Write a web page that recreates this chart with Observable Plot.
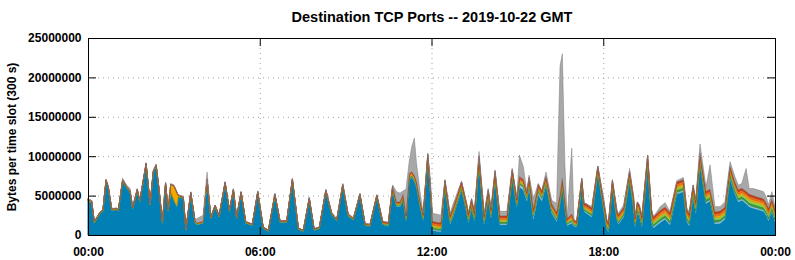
<!DOCTYPE html>
<html><head><meta charset="utf-8">
<script src="https://cdn.jsdelivr.net/npm/d3@7"></script>
<script src="https://cdn.jsdelivr.net/npm/@observablehq/plot@0.6"></script>
<style>body{margin:0;background:#fff} svg{display:block}</style>
</head><body><div id="chart"></div>
<script>
const title = "Destination TCP Ports -- 2019-10-22 GMT";
const yLabel = "Bytes per time slot (300 s)";
const xTicks = [0, 6, 12, 18, 24];
const yTicks = [0, 5000000, 10000000, 15000000, 20000000, 25000000];

// layers, bottom to top
const layerNames = ["blue", "lightblue", "green", "lightgreen", "amber", "orange", "red", "gray"];
const layerFill = ["#0080b4", "#8ecbea", "#3d9b35", "#8fd650", "#f5a700", "#f07020", "#c83c14", "#a8a8a8"];
const layerStroke = ["#00628c", "#6aa9c9", "#2d7a27", "#6fb03a", "#c98800", "#c05510", "#9a2a0c", "#7a7a7a"];

// time (hours) of each read point
const hours = [0.00,0.13,0.22,0.42,0.52,0.63,0.71,0.83,1.00,1.06,1.21,1.35,1.47,1.56,1.72,1.81,2.03,2.17,2.28,2.38,
2.48,2.60,2.71,2.80,2.89,3.00,3.10,3.15,3.27,3.33,3.42,3.59,3.74,3.81,4.02,4.16,4.29,4.44,4.58,4.79,
4.94,5.08,5.19,5.35,5.51,5.74,5.93,6.12,6.30,6.53,6.71,6.94,7.14,7.35,7.52,7.73,7.90,8.08,8.31,8.51,
8.69,8.90,9.09,9.27,9.50,9.68,9.85,10.09,10.30,10.49,10.64,10.78,10.90,11.01,11.11,11.22,11.31,11.40,11.48,11.60,
11.71,11.87,11.95,12.04,12.23,12.33,12.47,12.65,12.76,13.05,13.23,13.29,13.40,13.50,13.66,13.84,13.98,14.08,14.22,14.39,
14.63,14.82,14.98,15.07,15.21,15.33,15.41,15.56,15.73,15.85,16.00,16.20,16.37,16.49,16.57,16.66,16.74,16.90,16.98,17.07,
17.25,17.33,17.40,17.60,17.81,18.01,18.12,18.18,18.32,18.48,18.53,18.71,18.92,19.06,19.11,19.19,19.26,19.35,19.55,19.69,
19.75,19.99,20.16,20.33,20.57,20.80,20.92,21.00,21.14,21.23,21.38,21.59,21.73,21.90,22.08,22.25,22.43,22.60,22.72,22.84,
22.99,23.10,23.24,23.42,23.60,23.71,23.77,23.89,24.00];

// total bytes (millions) at each point (top of the stack)
const total = [4.65,4.4,1.7,2.95,3.2,7.1,6.2,3.4,3.4,3.2,7.2,6.3,5.9,3.6,5.9,4.4,9.2,4.0,8.2,9.0,
6.0,1.7,6.7,3.3,6.5,6.35,5.5,5.1,5.0,4.9,0.8,5.5,1.9,2.1,2.5,8.0,2.3,3.8,2.5,6.8,
3.2,5.9,2.3,5.5,1.7,1.4,5.6,1.05,0.6,5.3,1.8,1.8,7.2,0.9,0.6,4.8,0.8,1.0,5.8,2.95,
2.0,6.55,2.75,2.2,5.3,1.5,1.4,5.1,1.7,1.6,6.35,5.5,5.3,5.6,5.8,9.3,11.2,12.3,9.0,5.5,
2.75,10.4,7.5,2.75,2.6,2.5,7.0,2.75,4.0,6.8,4.0,2.75,4.65,3.0,10.6,2.75,5.9,3.5,8.25,3.0,
3.0,8.45,4.65,10.15,8.65,5.5,7.6,4.6,6.55,5.6,8.0,4.4,4.0,21.4,23.0,9.0,2.1,11.0,1.9,1.7,
7.2,4.0,4.0,3.6,8.75,4.8,2.1,1.6,7.0,3.2,2.75,3.8,8.45,4.9,2.3,4.2,3.8,2.4,10.15,3.2,
2.3,3.6,4.1,3.0,6.9,7.3,3.4,3.0,6.35,4.4,11.55,6.1,8.9,3.6,3.6,4.2,9.3,7.4,6.3,6.55,
8.45,5.9,5.9,5.7,5.5,4.65,3.8,5.5,3.6];

// main (blue) series, millions
const blue = [4.3,4.1,1.5,2.7,3.0,6.8,5.9,3.1,3.2,3.0,6.8,6.0,5.4,3.3,5.6,4.2,8.9,3.8,7.9,8.7,
5.7,1.5,6.4,3.0,5.4,4.4,3.6,4.8,4.7,4.6,0.6,5.2,1.6,1.3,1.5,6.9,2.1,3.6,2.3,6.5,
3.0,5.6,2.1,5.3,1.5,1.2,5.3,0.85,0.45,5.0,1.6,1.6,6.9,0.7,0.45,4.5,0.6,0.8,5.5,2.6,
1.8,6.2,2.4,1.9,5.0,1.2,1.1,4.8,1.3,1.1,5.6,3.6,3.6,4.4,1.8,7.0,7.3,6.8,6.0,3.6,
1.9,9.5,6.0,0.6,0.45,0.45,6.1,1.4,2.4,5.7,2.8,1.6,3.4,1.8,8.9,1.4,4.6,2.2,7.0,1.3,
1.3,7.2,3.6,6.1,5.7,4.3,6.0,2.0,5.1,4.3,6.3,2.8,1.7,4.0,6.0,3.4,1.2,1.5,1.1,1.0,
6.3,3.0,2.8,2.3,7.8,3.3,0.8,0.4,6.0,1.8,1.4,2.3,6.9,3.3,1.1,2.8,2.4,1.1,8.65,1.6,
0.9,1.6,2.0,1.3,5.2,5.5,1.7,1.2,4.9,2.8,8.9,4.0,4.3,1.4,1.5,2.0,7.2,5.2,4.2,4.4,
4.0,3.6,3.4,3.2,3.0,2.4,1.8,3.0,1.7];

// amber series, millions
const amber = [0.05,0.05,0.05,0.05,0.05,0.05,0.05,0.05,0.05,0.05,0.05,0.05,0.05,0.05,0.05,0.05,0.05,0.05,0.05,0.05,
0.05,0.05,0.05,0.05,0.9,1.7,1.7,0.1,0.05,0.05,0.05,0.05,0.05,0.05,0.05,0.05,0.05,0.05,0.05,0.05,
0.05,0.05,0.05,0.05,0.05,0.05,0.05,0.05,0.05,0.05,0.05,0.05,0.05,0.05,0.05,0.05,0.05,0.05,0.05,0.05,
0.05,0.05,0.05,0.05,0.05,0.05,0.05,0.05,0.05,0.05,0.15,0.15,0.15,0.15,0.15,0.15,0.15,0.15,0.15,0.15,
0.15,0.15,0.15,0.2,0.2,0.2,0.2,0.2,0.2,0.2,0.2,0.2,0.2,0.2,0.2,0.2,0.2,0.2,0.2,0.2,
0.2,0.2,0.2,0.2,0.2,0.2,0.2,0.2,0.2,0.2,0.2,0.2,0.2,0.2,0.2,0.2,0.2,0.2,0.2,0.2,
0.2,0.2,0.2,0.2,0.2,0.2,0.2,0.2,0.25,0.25,0.25,0.25,0.25,0.25,0.25,0.25,0.25,0.25,0.25,0.25,
0.25,0.25,0.25,0.25,0.25,0.25,0.25,0.25,0.25,0.25,0.25,0.25,0.25,0.25,0.25,0.25,0.25,0.25,0.25,0.25,
0.25,0.25,0.25,0.25,0.25,0.25,0.25,0.25,0.25];

// thin layers, per hour of day (millions)
const lightblueHourly = [0.04,0.04,0.04,0.04,0.04,0.04,0.04,0.04,0.04,0.04,0.08,0.1,0.15,0.15,0.15,0.35,0.2,0.15,0.15,0.2,0.2,0.2,0.2,0.2];
const greenHourly = [0.04,0.04,0.04,0.04,0.04,0.04,0.04,0.04,0.04,0.04,0.1,0.15,0.2,0.2,0.2,0.2,0.2,0.2,0.2,0.3,0.3,0.3,0.3,0.3];
const lightgreenHourly = [0.03,0.03,0.03,0.03,0.03,0.03,0.03,0.03,0.03,0.03,0.08,0.1,0.15,0.15,0.15,0.15,0.15,0.15,0.15,0.25,0.25,0.25,0.25,0.3];
const orangeHourly = [0.04,0.04,0.04,0.04,0.04,0.04,0.04,0.04,0.04,0.04,0.1,0.15,0.25,0.25,0.25,0.25,0.25,0.25,0.25,0.3,0.3,0.3,0.3,0.3];
const redHourly = [0.03,0.03,0.03,0.03,0.03,0.03,0.03,0.03,0.03,0.03,0.1,0.12,0.2,0.2,0.2,0.2,0.2,0.2,0.2,0.25,0.25,0.25,0.25,0.25];

// build stacked rows
const rows = [];
hours.forEach((h, i) => {
  const hr = Math.min(23, Math.floor(h));
  let mids = [lightblueHourly[hr], greenHourly[hr], lightgreenHourly[hr], amber[i], orangeHourly[hr], redHourly[hr]];
  const room = Math.max(0, total[i] - blue[i]);
  const s = d3.sum(mids);
  const k = s > room ? room / s : 1;
  mids = mids.map(v => v * k);
  const gray = Math.max(0, total[i] - blue[i] - d3.sum(mids));
  const vals = [blue[i], ...mids, gray];
  vals.forEach((v, j) => rows.push({hour: h, layer: layerNames[j], j, value: v * 1e6}));
});

const W = 795, H = 260, mL = 88, mR = 20, mT = 38, mB = 25;
const fw = W - mL - mR, fh = H - mT - mB, tick = 8;
const pad2 = h => String(h % 24).padStart(2, "0") + ":00";

const chart = Plot.plot({
  width: W, height: H,
  marginLeft: mL, marginRight: mR, marginTop: mT, marginBottom: mB,
  style: {fontFamily: "'Liberation Sans', Arial, sans-serif", fontSize: "12px", fontWeight: "bold", color: "#000", background: "#fff"},
  x: {domain: [0, 24]},
  y: {domain: [0, 25000000]},
  marks: [
    Plot.ruleX(xTicks.slice(1, -1), {stroke: "#a0a0a0", strokeDasharray: "1,4", strokeWidth: 1}),
    Plot.ruleY(yTicks.slice(1, -1), {stroke: "#a0a0a0", strokeDasharray: "1,4", strokeWidth: 1}),
    Plot.areaY(rows, {x: "hour", y: "value", z: "layer", order: layerNames,
      fill: d => layerFill[d.j], stroke: d => layerStroke[d.j], strokeWidth: 0.5}),
    Plot.frame({stroke: "#000", strokeWidth: 1}),
    Plot.ruleX(xTicks, {insetTop: fh - tick, stroke: "#000"}),
    Plot.ruleX(xTicks, {insetBottom: fh - tick, stroke: "#000"}),
    Plot.ruleY(yTicks, {insetRight: fw - tick, stroke: "#000"}),
    Plot.ruleY(yTicks, {insetLeft: fw - tick, stroke: "#000"}),
    Plot.axisY({ticks: yTicks, tickSize: 0, tickPadding: 7, tickFormat: d => d.toFixed(0), label: null}),
    Plot.axisX({ticks: xTicks, tickSize: 0, tickPadding: 12, tickFormat: pad2, label: null}),
    Plot.text([yLabel], {frameAnchor: "left", textAnchor: "middle", rotate: -90, dx: -76, fontSize: 12, fontWeight: "bold"}),
    Plot.text([title], {frameAnchor: "top", dy: -27, fontSize: 14.5, fontWeight: "bold"})
  ]
});
document.getElementById("chart").appendChild(chart);
</script>
</body></html>
